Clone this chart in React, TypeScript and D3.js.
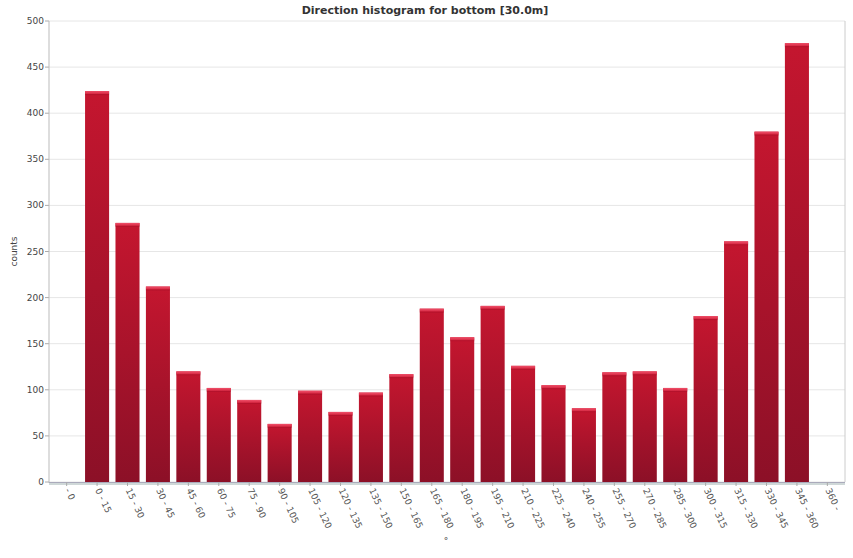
import React from "react";
import * as d3 from "d3";

const categories = ["- 0","0 - 15","15 - 30","30 - 45","45 - 60","60 - 75","75 - 90","90 - 105","105 - 120","120 - 135","135 - 150","150 - 165","165 - 180","180 - 195","195 - 210","210 - 225","225 - 240","240 - 255","255 - 270","270 - 285","285 - 300","300 - 315","315 - 330","330 - 345","345 - 360","360 -"];
const counts = [0,424,281,212,120,102,89,63,99,76,97,117,188,157,191,126,105,80,119,120,102,180,261,380,476,0];
const yTicks = [0,50,100,150,200,250,300,350,400,450,500];
const title = "Direction histogram for bottom [30.0m]";
const yLabel = "counts";
const xLabel = "°";

const W = 853, H = 558;
const L = 49, R = 845, T = 21, B = 482;

export default function App() {
  const x = d3.scaleBand<string>().domain(categories).range([L, R]).paddingInner(0.21).paddingOuter(0.185);
  const y = d3.scaleLinear().domain([0, 500]).range([B, T]);
  const font = "Verdana, 'DejaVu Sans', sans-serif";
  return (
    <svg width={W} height={H} style={{ position: "absolute", left: 0, top: 0 }} fontFamily={font}>
      <defs>
        <linearGradient id="barg" x1="0" y1="0" x2="0" y2="1">
          <stop offset="0" stopColor="#c4162f" />
          <stop offset="1" stopColor="#8c1027" />
        </linearGradient>
        <linearGradient id="capg" x1="0" y1="0" x2="0" y2="1">
          <stop offset="0" stopColor="#f0506a" />
          <stop offset="1" stopColor="#d42640" />
        </linearGradient>
      </defs>
      <rect x={0} y={0} width={W} height={H} fill="#fff" />
      <text x={425} y={14} textAnchor="middle" fontSize={11} fontWeight="bold" fill="#333">{title}</text>
      {yTicks.map(t => (
        <g key={t}>
          <line x1={L} x2={R} y1={y(t)} y2={y(t)} stroke="#e6e6e6" strokeWidth={1} />
          <line x1={L - 4} x2={L} y1={y(t)} y2={y(t)} stroke="#aaa" />
          <text x={L - 5} y={y(t) + 3} textAnchor="end" fontSize={9} fill="#444">{t}</text>
        </g>
      ))}
      <line x1={R} x2={R} y1={T} y2={B} stroke="#ccc" />
      {categories.map((c, i) => {
        const v = counts[i];
        if (!v) return null;
        const bx = x(c)!;
        const bw = x.bandwidth();
        const by = y(v);
        return (
          <g key={c}>
            <rect x={bx} y={by} width={bw} height={B - by} fill="url(#barg)" />
            <rect x={bx} y={by} width={bw} height={3} fill="url(#capg)" />
            <line x1={bx} x2={bx + bw} y1={by + 3.5} y2={by + 3.5} stroke="#a8102a" strokeOpacity={0.5} />
          </g>
        );
      })}
      <line x1={L} x2={L} y1={T} y2={B + 1} stroke="#bbb" />
      <line x1={L} x2={R} y1={B + 0.5} y2={B + 0.5} stroke="#aab" />
      <line x1={L} x2={R} y1={B + 2} y2={B + 2} stroke="#cfd8d8" strokeWidth={2} />
      {categories.map(c => {
        const cx = x(c)! + x.bandwidth() / 2;
        return (
          <g key={c}>
            <line x1={cx} x2={cx} y1={B} y2={B + 4} stroke="#aaa" />
            <text transform={`translate(${cx - 2},${B + 8}) rotate(65)`} fontSize={9} fill="#555">{c}</text>
          </g>
        );
      })}
      <text transform={`translate(17,${(T + B) / 2}) rotate(-90)`} textAnchor="middle" fontSize={9} fill="#444">{yLabel}</text>
      <text x={446} y={544} textAnchor="middle" fontSize={9} fill="#444">{xLabel}</text>
    </svg>
  );
}
